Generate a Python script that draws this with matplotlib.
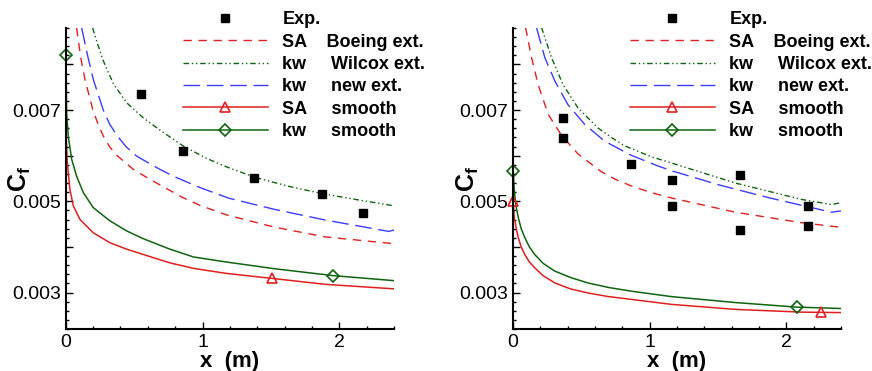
import numpy as np
import matplotlib
matplotlib.use('Agg')
import matplotlib.pyplot as plt
from matplotlib.lines import Line2D
from matplotlib.ticker import MultipleLocator, FuncFormatter

plt.rcParams['font.family'] = ['Liberation Sans', 'DejaVu Sans']
plt.rcParams['mathtext.fontset'] = 'custom'
plt.rcParams['mathtext.bf'] = 'Liberation Sans:bold'
plt.rcParams['mathtext.rm'] = 'Liberation Sans'

# ---------------- left panel data ----------------
xL_exp = [0.55, 0.855, 1.376, 1.871, 2.173]
yL_exp = [0.00735, 0.0061, 0.00551, 0.00515, 0.00474]

xL_sa_boe = [0.080, 0.110, 0.141, 0.202, 0.24, 0.275, 0.32, 0.373, 0.494, 0.616, 0.713, 0.85, 0.982, 1.177, 1.530, 1.895, 2.40]
yL_sa_boe = [0.0088, 0.00815, 0.00767, 0.00697, 0.00667, 0.00643, 0.0062, 0.00601, 0.0057, 0.00548, 0.00532, 0.00509, 0.00491, 0.00470, 0.00443, 0.00422, 0.00407]

xL_kw_wil = [0.197, 0.23, 0.275, 0.348, 0.446, 0.567, 0.689, 0.762, 0.860, 1.031, 1.171, 1.379, 1.627, 1.871, 2.139, 2.40]
yL_kw_wil = [0.0088, 0.00848, 0.00808, 0.00758, 0.00716, 0.00683, 0.00656, 0.00641, 0.00621, 0.00594, 0.00576, 0.00553, 0.00533, 0.00517, 0.00503, 0.0049]

xL_kw_new = [0.117, 0.16, 0.202, 0.275, 0.32, 0.373, 0.44, 0.519, 0.6, 0.689, 0.787, 0.982, 1.19, 1.53, 1.895, 2.36, 2.40]
yL_kw_new = [0.0088, 0.0082, 0.00767, 0.00700, 0.0067, 0.00645, 0.0062, 0.00599, 0.00585, 0.0057, 0.00555, 0.0053, 0.00507, 0.00482, 0.00459, 0.00434, 0.00437]

xL_sa_sm = [0.0, 0.002, 0.012, 0.031, 0.056, 0.105, 0.202, 0.324, 0.446, 0.592, 0.762, 0.933, 1.171, 1.506, 1.895, 2.40]
yL_sa_sm = [0.0078, 0.00658, 0.00585, 0.00526, 0.0049, 0.0046, 0.00431, 0.00409, 0.00395, 0.00381, 0.00365, 0.00353, 0.00342, 0.00331, 0.00318, 0.00308]
xL_sa_mk = [1.506]
yL_sa_mk = [0.00331]

xL_kw_sm = [0.0, 0.002, 0.007, 0.019, 0.044, 0.080, 0.129, 0.202, 0.324, 0.446, 0.567, 0.762, 0.933, 1.171, 1.53, 1.956, 2.40]
yL_kw_sm = [0.0090, 0.0082, 0.00694, 0.00643, 0.00592, 0.00555, 0.00519, 0.00486, 0.00457, 0.00435, 0.00418, 0.00395, 0.00378, 0.00367, 0.00352, 0.00337, 0.00326]
xL_kw_mk = [0.0, 1.956]
yL_kw_mk = [0.0082, 0.00337]

# ---------------- right panel data ----------------
xR_exp = [0.369, 0.369, 0.866, 1.162, 1.162, 1.664, 1.664, 2.162, 2.162]
yR_exp = [0.00682, 0.00638, 0.00581, 0.00546, 0.00489, 0.00557, 0.00438, 0.00489, 0.00445]

xR_sa_boe = [0.092, 0.136, 0.184, 0.257, 0.354, 0.475, 0.646, 0.75, 0.864, 1.0, 1.15, 1.628, 2.113, 2.40]
yR_sa_boe = [0.00881, 0.00815, 0.00756, 0.00691, 0.00645, 0.00604, 0.00565, 0.00548, 0.00534, 0.0052, 0.00508, 0.00476, 0.00453, 0.00443]

xR_kw_wil = [0.209, 0.282, 0.366, 0.475, 0.621, 0.72, 0.815, 1.009, 1.16, 1.628, 2.113, 2.331, 2.40]
yR_kw_wil = [0.00881, 0.00815, 0.00756, 0.00705, 0.00661, 0.0064, 0.00622, 0.00598, 0.00584, 0.0054, 0.00504, 0.00493, 0.00497]

xR_kw_new = [0.172, 0.233, 0.306, 0.402, 0.524, 0.67, 0.864, 1.057, 1.16, 1.507, 1.870, 2.331, 2.40]
yR_kw_new = [0.00881, 0.00815, 0.00764, 0.00712, 0.00669, 0.00632, 0.00601, 0.00578, 0.00567, 0.00536, 0.00508, 0.00476, 0.00479]

xR_sa_sm = [0.002, 0.010, 0.015, 0.025, 0.039, 0.06, 0.087, 0.12, 0.16, 0.22, 0.306, 0.42, 0.548, 0.7, 0.864, 1.16, 1.628, 2.113, 2.40]
yR_sa_sm = [0.0050, 0.0046, 0.00457, 0.00438, 0.0042, 0.0040, 0.00383, 0.00367, 0.00354, 0.00337, 0.00321, 0.00308, 0.00299, 0.00291, 0.00285, 0.00274, 0.00263, 0.00257, 0.00256]
xR_sa_mk = [0.002, 2.254]
yR_sa_mk = [0.0050, 0.00258]

xR_kw_sm = [0.0, 0.002, 0.008, 0.015, 0.025, 0.039, 0.06, 0.087, 0.12, 0.16, 0.22, 0.306, 0.42, 0.548, 0.7, 0.864, 1.16, 1.628, 2.077, 2.40]
yR_kw_sm = [0.0090, 0.00566, 0.0053, 0.00508, 0.00485, 0.00464, 0.0044, 0.0042, 0.0040, 0.00383, 0.00364, 0.00347, 0.00333, 0.00321, 0.00311, 0.00303, 0.00291, 0.00278, 0.00268, 0.00265]
xR_kw_mk = [0.002, 2.077]
yR_kw_mk = [0.00566, 0.00268]

legend_labels = ['Exp.', 'SA    Boeing ext.', 'kw     Wilcox ext.', 'kw     new ext.',
                 'SA     smooth', 'kw     smooth']

c_red = '#e02020'
c_grn = '#0f640f'
c_blu = '#3c3cff'
dash_sa = (6, 4.8)
dash_new = (12, 4.8)
dash_wil = (4, 2, 1, 2, 1, 2)


def draw_panel(ax, d):
    ax.plot(d['sa_boe'][0], d['sa_boe'][1], color=c_red, lw=1.0, dashes=dash_sa)
    ax.plot(d['kw_wil'][0], d['kw_wil'][1], color=c_grn, lw=1.0, dashes=dash_wil)
    ax.plot(d['kw_new'][0], d['kw_new'][1], color=c_blu, lw=1.0, dashes=dash_new)
    ax.plot(d['sa_sm'][0], d['sa_sm'][1], color=c_red, lw=1.1)
    ax.plot(d['kw_sm'][0], d['kw_sm'][1], color=c_grn, lw=1.1)
    ax.plot(d['sa_mk'][0], d['sa_mk'][1], ls='none', marker='^', ms=7, mfc='none', mec=c_red, mew=1.2, clip_on=False)
    ax.plot(d['kw_mk'][0], d['kw_mk'][1], ls='none', marker='D', ms=6.5, mfc='none', mec=c_grn, mew=1.2, clip_on=False)
    ax.plot(d['exp'][0], d['exp'][1], ls='none', marker='s', ms=5.5, color='k')

    ax.set_xlim(0, 2.4)
    ax.set_ylim(0.0022, 0.0088)
    ax.spines['top'].set_visible(False)
    ax.spines['right'].set_visible(False)
    ax.spines['left'].set_linewidth(1.5)
    ax.spines['bottom'].set_linewidth(1.5)
    ax.xaxis.set_major_locator(MultipleLocator(1))
    ax.xaxis.set_minor_locator(MultipleLocator(0.2))
    ax.yaxis.set_major_locator(MultipleLocator(0.001))
    ax.yaxis.set_minor_locator(MultipleLocator(0.0002))
    ax.yaxis.set_major_formatter(FuncFormatter(
        lambda v, p: ('%.3f' % v) if round(v * 1000) in (3, 5, 7) else ''))
    ax.tick_params(which='both', direction='in', top=False, right=False, labelsize=14, width=1)
    ax.tick_params(which='major', length=5)
    ax.tick_params(which='minor', length=2.5)
    ax.set_xlabel('x  (m)', fontsize=16, fontweight='bold', labelpad=0)
    ax.set_ylabel(r'$\mathbf{C}_\mathbf{f}$', fontsize=18)
    ax.yaxis.set_label_coords(-0.098, 0.5)

    h = [Line2D([], [], ls='none', marker='s', ms=5.5, color='k'),
         Line2D([], [], color=c_red, lw=1.0, dashes=dash_sa),
         Line2D([], [], color=c_grn, lw=1.0, dashes=dash_wil),
         Line2D([], [], color=c_blu, lw=1.0, dashes=dash_new),
         Line2D([], [], color=c_red, lw=1.1, marker='^', ms=7, mfc='none', mec=c_red, mew=1.2),
         Line2D([], [], color=c_grn, lw=1.1, marker='D', ms=6.5, mfc='none', mec=c_grn, mew=1.2)]
    return h


fig = plt.figure(figsize=(8.72, 3.71), dpi=100)
ax1 = fig.add_axes([0.0753, 0.1132, 0.3768, 0.8113])
ax2 = fig.add_axes([0.5883, 0.1132, 0.3761, 0.8113])

dL = {'exp': (xL_exp, yL_exp), 'sa_boe': (xL_sa_boe, yL_sa_boe), 'kw_wil': (xL_kw_wil, yL_kw_wil),
      'kw_new': (xL_kw_new, yL_kw_new), 'sa_sm': (xL_sa_sm, yL_sa_sm), 'kw_sm': (xL_kw_sm, yL_kw_sm),
      'sa_mk': (xL_sa_mk, yL_sa_mk), 'kw_mk': (xL_kw_mk, yL_kw_mk)}
dR = {'exp': (xR_exp, yR_exp), 'sa_boe': (xR_sa_boe, yR_sa_boe), 'kw_wil': (xR_kw_wil, yR_kw_wil),
      'kw_new': (xR_kw_new, yR_kw_new), 'sa_sm': (xR_sa_sm, yR_sa_sm), 'kw_sm': (xR_kw_sm, yR_kw_sm),
      'sa_mk': (xR_sa_mk, yR_sa_mk), 'kw_mk': (xR_kw_mk, yR_kw_mk)}

for ax, d, lx in [(ax1, dL, 183. / 872), (ax2, dR, 630. / 872)]:
    h = draw_panel(ax, d)
    ax.legend(h, legend_labels, loc='upper left', bbox_to_anchor=(lx, 0.97),
              bbox_transform=fig.transFigure, frameon=False, borderpad=0, borderaxespad=0,
              handlelength=4.7, handletextpad=0.8, labelspacing=0.3, numpoints=1,
              prop={'size': 13, 'weight': 'bold'})

fig.savefig('out.png', dpi=100)
